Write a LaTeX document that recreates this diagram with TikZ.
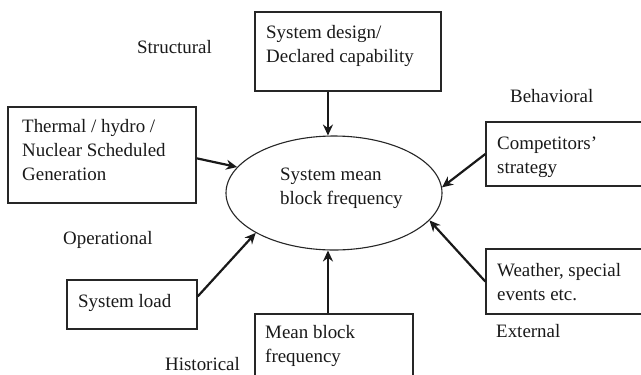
\documentclass[tikz,border=0pt]{standalone}
\usepackage{fontspec}
\setmainfont{Liberation Serif}
\usetikzlibrary{arrows.meta,shapes.geometric}
\begin{document}
\begin{tikzpicture}[x=1bp,y=-1bp,
  box/.style={draw=black!85, line width=1.4bp, rectangle, inner sep=0pt},
  txt/.style={anchor=base west, inner sep=0pt, align=left, font=\fontsize{19}{24}\selectfont, text=black!90},
  arr/.style={draw=black!90, line width=2.2bp, -{Stealth[length=11bp,width=10bp]}},
]
\clip (0,0) rectangle (641,374);
\fill[white] (0,0) rectangle (641,374);
% boxes
\node[box, minimum width=186bp, minimum height=79bp] (design) at (348,51.5) {};
\node[box, minimum width=188bp, minimum height=96bp] (thermal) at (102,155) {};
\node[box, minimum width=164bp, minimum height=64bp] (comp) at (568,154) {};
\node[box, minimum width=164bp, minimum height=65bp] (weather) at (568,281.5) {};
\node[box, minimum width=130bp, minimum height=49bp] (load) at (132,304.5) {};
\node[box, minimum width=158bp, minimum height=76bp] (mean) at (334,352) {};
\node[draw=black!85, line width=1.1bp, ellipse, inner sep=0pt, minimum width=216bp, minimum height=114bp] (ell) at (334,193) {};
% box texts (anchored at the baseline of the last line)
\node[txt] (tdesign) at (266,62) {System design/\\Declared capability};
\node[txt] (tthermal) at (22,180) {Thermal / hydro /\\Nuclear Scheduled\\Generation};
\node[txt] (tcomp) at (497,173) {Competitors'\\strategy};
\node[txt] (tweather) at (497,300) {Weather, special\\events etc.};
\node[txt] (tload) at (78,307) {System load};
\node[txt] (tmean) at (265,362) {Mean block\\frequency};
\node[txt] (tell) at (280,204) {System mean\\block frequency};
% category labels
\node[txt] (structural) at (137,53) {Structural};
\node[txt] (behavioral) at (510,102) {Behavioral};
\node[txt] (operational) at (63,244) {Operational};
\node[txt] (historical) at (165,370) {Historical};
\node[txt] (external) at (496,337) {External};
% arrows
\draw[arr] (design.south -| ell.96) -- (ell.96);
\draw[arr] (mean.north -| ell.264) -- (ell.264);
\draw[arr] (thermal.-2) -- (ell.165);
\draw[arr] (comp.west) -- (ell.3);
\draw[arr] (weather.west) -- (ell.-16);
\draw[arr] (load.7) -- (ell.207);
\end{tikzpicture}
\end{document}
